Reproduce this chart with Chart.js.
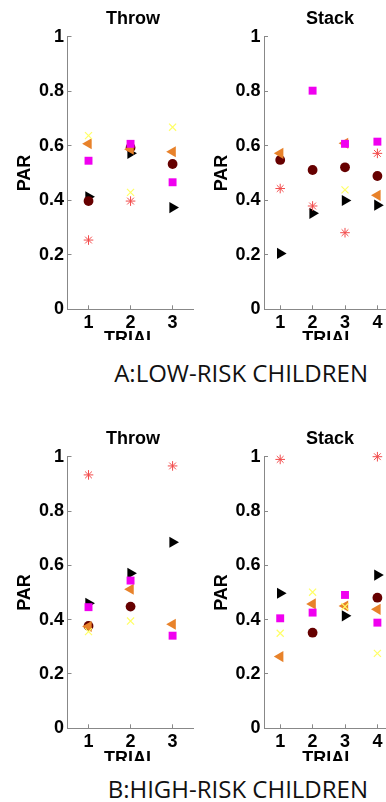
<!DOCTYPE html>
<html>
<head>
<meta charset="utf-8">
<script src="https://cdn.jsdelivr.net/npm/chart.js@4.4.1/dist/chart.umd.min.js"></script>
<style>
  html, body { margin: 0; padding: 0; background: #fff; }
  body { width: 386px; height: 802px; overflow: hidden; position: relative; }
  .panel { position: absolute; overflow: hidden; }
  .panel canvas { position: absolute; left: 0; top: 0; }
  .ttl { position: absolute; width: 100px; text-align: center; font: bold 18px "Liberation Sans", Arial, sans-serif; line-height: 20px; color: #000; }
  .cap { position: absolute; right: 18px; font: 24px "Open Sans", sans-serif; line-height: 24px; color: #111; white-space: nowrap; }
</style>
</head>
<body>
<div class="panel" style="left:0;top:0;width:200px;height:340px"><canvas id="lowThrow" width="200" height="360"></canvas></div>
<div class="panel" style="left:190px;top:0;width:196px;height:340px"><canvas id="lowStack" width="210" height="360"></canvas></div>
<div class="panel" style="left:0;top:420px;width:200px;height:341px"><canvas id="highThrow" width="200" height="360"></canvas></div>
<div class="panel" style="left:190px;top:420px;width:196px;height:341px"><canvas id="highStack" width="210" height="360"></canvas></div>

<div class="ttl" style="left:83px;top:8px">Throw</div>
<div class="ttl" style="left:280px;top:8px">Stack</div>
<div class="ttl" style="left:83px;top:428px">Throw</div>
<div class="ttl" style="left:280px;top:428px">Stack</div>

<div class="cap" style="top:361px">A:LOW-RISK CHILDREN</div>
<div class="cap" style="top:777px">B:HIGH-RISK CHILDREN</div>

<script>
// categories / ticks
const trials3 = ['1', '2', '3'];
const trials4 = ['1', '2', '3', '4'];
const yTicks = [0, 0.2, 0.4, 0.6, 0.8, 1];

// A: low-risk, throw  (series: asterisk, x, square, left tri, circle, right tri)
const lowThrowStar   = [0.254, 0.397, null];
const lowThrowX      = [0.637, 0.429, 0.668];
const lowThrowSquare = [0.545, 0.607, 0.466];
const lowThrowLeft   = [0.607, 0.587, 0.578];
const lowThrowCircle = [0.397, 0.593, 0.533];
const lowThrowRight  = [0.413, 0.572, 0.373];

// A: low-risk, stack
const lowStackStar   = [0.443, 0.379, 0.281, 0.572];
const lowStackX      = [null, null, 0.438, null];
const lowStackSquare = [null, 0.802, 0.607, 0.615];
const lowStackLeft   = [0.572, null, 0.609, 0.418];
const lowStackCircle = [0.548, 0.511, 0.521, 0.489];
const lowStackRight  = [0.205, 0.352, 0.399, 0.382];

// B: high-risk, throw
const highThrowStar   = [0.933, null, 0.966];
const highThrowX      = [0.356, 0.395, null];
const highThrowSquare = [0.446, 0.544, 0.341];
const highThrowLeft   = [0.375, 0.512, 0.383];
const highThrowCircle = [0.377, 0.448, null];
const highThrowRight  = [0.460, 0.571, 0.685];

// B: high-risk, stack
const highStackStar   = [0.990, null, null, 1.0];
const highStackX      = [0.350, 0.501, 0.448, 0.276];
const highStackSquare = [0.405, 0.426, 0.491, 0.389];
const highStackLeft   = [0.264, 0.458, 0.450, 0.438];
const highStackCircle = [null, 0.352, null, 0.481];
const highStackRight  = [0.497, null, 0.414, 0.564];

// marker look, same order as the arrays above (first one ends on top)
const markers = [
    { style: 'star',     rot: 0,   r: 4.8, fill: 'transparent', line: '#f24b4b', w: 1 },
    { style: 'crossRot', rot: 0,   r: 5,   fill: 'transparent', line: '#ffff66', w: 1.2 },
    { style: 'rect',     rot: 0,   r: 5.6, fill: '#f000f0', line: '#f000f0', w: 0 },
    { style: 'triangle', rot: -90, r: 6.4, fill: '#e8822a', line: '#e8822a', w: 0 },
    { style: 'circle',   rot: 0,   r: 4.9, fill: '#660000', line: '#660000', w: 0 },
    { style: 'triangle', rot: 90,  r: 6.4, fill: '#000000', line: '#000000', w: 0 }
];

const axisFont = { family: '"Liberation Sans", Arial, sans-serif', size: 18, weight: 'bold' };

function drawPanel(id, labels, series, yWidth, padRight, xHeight) {
    new Chart(document.getElementById(id), {
        type: 'line',
        data: {
            labels: labels,
            datasets: series.map((vals, i) => ({
                data: vals,
                showLine: false,
                clip: false,
                pointStyle: markers[i].style,
                pointRotation: markers[i].rot,
                pointRadius: markers[i].r,
                pointBackgroundColor: markers[i].fill,
                pointBorderColor: markers[i].line,
                pointBorderWidth: markers[i].w
            }))
        },
        options: {
            responsive: false,
            animation: false,
            layout: { padding: { top: 36.7, right: padRight, left: 0, bottom: 0 } },
            plugins: { legend: { display: false }, tooltip: { enabled: false } },
            scales: {
                x: {
                    offset: true,
                    grid: { drawOnChartArea: false, tickLength: -4, color: '#888' },
                    border: { color: '#888', width: 1 },
                    ticks: { font: axisFont, color: '#000', padding: 7, maxRotation: 0 },
                    title: { display: true, text: 'TRIAL', font: axisFont, color: '#000', padding: { top: 0, bottom: 10.4 } },
                    afterFit: s => { s.height = xHeight; }
                },
                y: {
                    min: 0,
                    max: 1,
                    afterBuildTicks: s => { s.ticks = yTicks.map(v => ({ value: v })); },
                    grid: { drawOnChartArea: false, tickLength: -4, color: '#888' },
                    border: { color: '#888', width: 1 },
                    ticks: { font: axisFont, color: '#000', padding: 7.5, callback: v => String(v) },
                    title: { display: true, text: 'PAR', font: axisFont, color: '#000', padding: { top: yWidth > 70 ? 21 : 14.2, bottom: 0 } },
                    afterFit: s => { s.width = yWidth; }
                }
            }
        }
    });
}

drawPanel('lowThrow', trials3,
    [lowThrowStar, lowThrowX, lowThrowSquare, lowThrowLeft, lowThrowCircle, lowThrowRight], 67.5, 1.5, 50.7);
drawPanel('lowStack', trials4,
    [lowStackStar, lowStackX, lowStackSquare, lowStackLeft, lowStackCircle, lowStackRight], 74, 3.2, 50.7);
drawPanel('highThrow', trials3,
    [highThrowStar, highThrowX, highThrowSquare, highThrowLeft, highThrowCircle, highThrowRight], 67.5, 1.5, 51.7);
drawPanel('highStack', trials4,
    [highStackStar, highStackX, highStackSquare, highStackLeft, highStackCircle, highStackRight], 74, 3.2, 51.7);
</script>
</body>
</html>
